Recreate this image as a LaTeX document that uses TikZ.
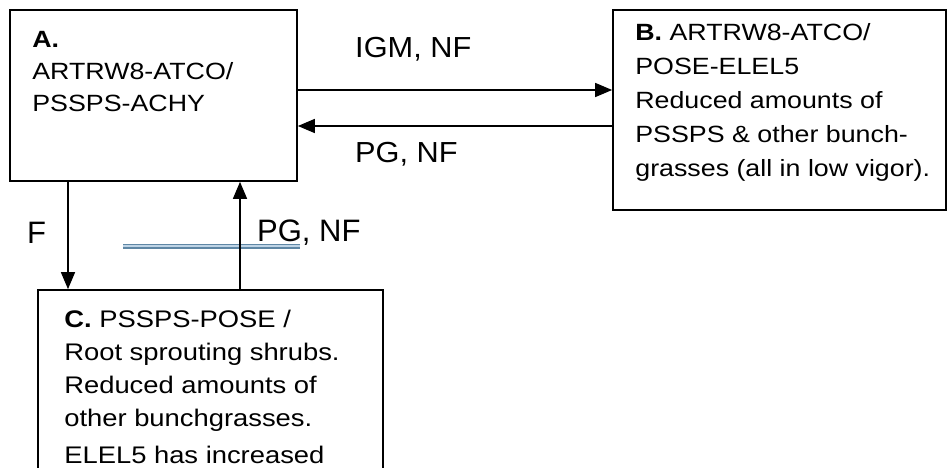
\documentclass[tikz,border=0pt]{standalone}
\usepackage{fontspec}
\setmainfont{Liberation Sans}
\newfontfamily\boxfont[FakeStretch=1.14]{Liberation Sans}
\newfontfamily\lblfont[FakeStretch=1.06]{Liberation Sans}
\usetikzlibrary{arrows.meta}
\definecolor{strikeblue}{RGB}{95,135,165}
\definecolor{strikepale}{RGB}{190,212,230}

\begin{document}
\begin{tikzpicture}[x=1pt, y=-1pt,
  statebox/.style={draw=black, line width=1.7pt, rectangle, inner sep=0pt},
  boxtext/.style={anchor=north west, inner sep=0pt, align=left},
  toplbl/.style={anchor=base west, inner sep=0pt, font=\fontsize{29}{32}\lblfont},
  lowlbl/.style={anchor=base west, inner sep=0pt, font=\fontsize{31}{36}\selectfont},
  arr/.style={line width=1.5pt, -{Triangle[length=17pt, width=14pt]}},
  strike/.style={draw=strikeblue, line width=1.6pt, double=strikepale, double distance=1.8pt}]
\useasboundingbox (0,0) rectangle (948,468);
\clip (0,0) rectangle (948,468);

\node[statebox, minimum width=287pt, minimum height=171pt] (A) at (153.5,95.5) {};
\node[statebox, minimum width=333pt, minimum height=200pt] (B) at (779.5,110) {};
\node[statebox, minimum width=345pt, minimum height=230pt] (C) at (210.5,405) {};

\node[boxtext, font=\fontsize{23.5}{32}\boxfont] (Atxt) at ([xshift=23pt, yshift=-22pt]A.north west)
  {\textbf{A.}\\ARTRW8-ATCO/\\PSSPS-ACHY};
\node[boxtext, font=\fontsize{23.5}{34}\boxfont] (Btxt) at ([xshift=23pt, yshift=-14pt]B.north west)
  {\textbf{B.} ARTRW8-ATCO/\\POSE-ELEL5\\Reduced amounts of\\PSSPS \& other bunch-\\grasses (all in low vigor).};
\node[boxtext, font=\fontsize{24}{33}\boxfont] (Ctxt) at ([xshift=27pt, yshift=-21pt]C.north west)
  {\textbf{C.} PSSPS-POSE /\\Root sprouting shrubs.\\Reduced amounts of\\other bunchgrasses.\\[4pt]ELEL5 has increased};

\node[toplbl] (igm) at (355,58) {IGM, NF};
\node[toplbl] (pgB) at (355,163) {PG, NF};
\node[lowlbl] (fire) at (27,243) {F};
\node[lowlbl] (pgC) at (257,241) {PG, NF};

\coordinate (strikeL) at (123,246);
\coordinate (strikeR) at (300,246);
\draw[strike] (strikeL) -- (strikeR);

\draw[arr] ([yshift=5.5pt]A.east) -- ([yshift=5.5pt]A.east -| B.west);
\draw[arr] ([yshift=-30.5pt]A.east -| B.west) -- ([yshift=-30.5pt]A.east);
\draw[arr] ([xshift=-85.5pt]A.south) -- ([xshift=-85.5pt]A.south |- C.north);
\draw[arr] ([xshift=86.5pt]A.south |- C.north) -- ([xshift=86.5pt]A.south);
\end{tikzpicture}
\end{document}
